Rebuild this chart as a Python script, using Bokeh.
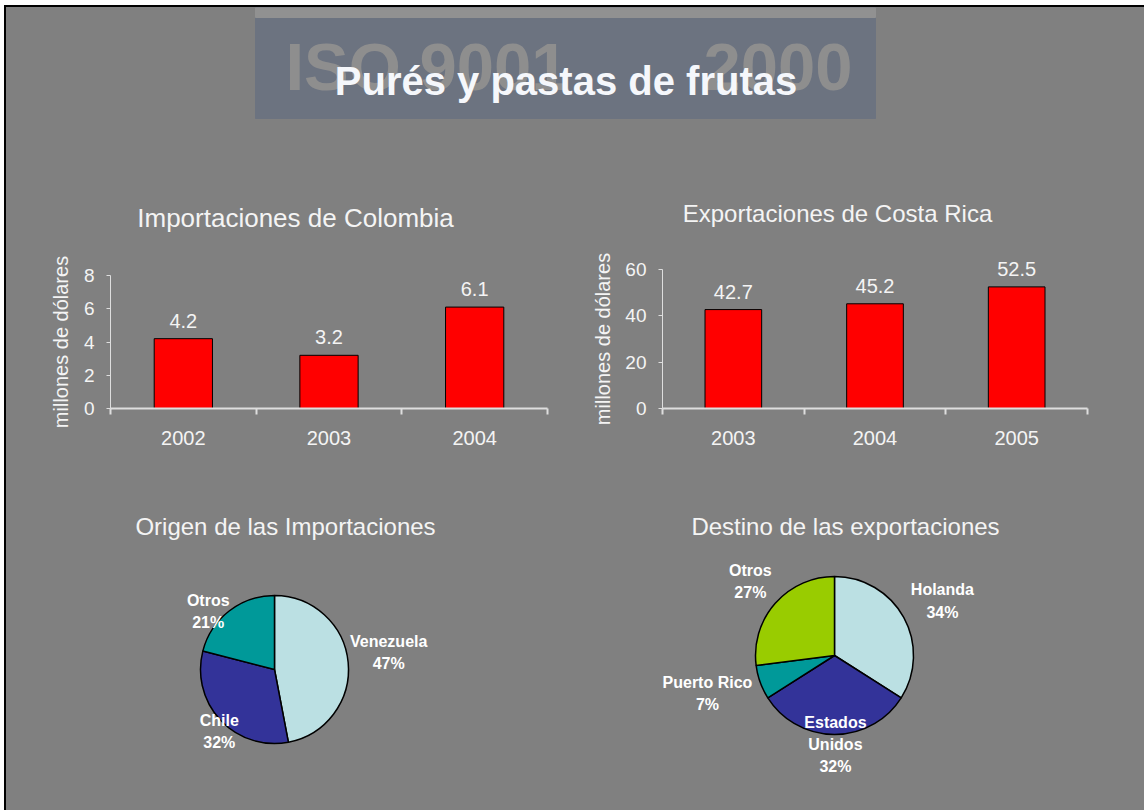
import math
from bokeh.plotting import figure
from bokeh.models import Range1d, FixedTicker, ColumnDataSource, LabelSet
from bokeh.layouts import column, row
from bokeh.embed import file_html
from bokeh.resources import INLINE
from bokeh.core.properties import value

# ---------------- data ----------------
imp_years = ["2002", "2003", "2004"]
imp_values = [4.2, 3.2, 6.1]
imp_yticks = [0, 2, 4, 6, 8]

exp_years = ["2003", "2004", "2005"]
exp_values = [42.7, 45.2, 52.5]
exp_yticks = [0, 20, 40, 60]

origin_names = ["Venezuela", "Chile", "Otros"]
origin_pct = [47, 32, 21]

dest_names = ["Holanda", "Estados\nUnidos", "Puerto Rico", "Otros"]
dest_pct = [34, 32, 7, 27]

# ---------------- styles ----------------
BG = "#808080"
FONT = "Liberation Sans"
TXT = "#f4f4f4"
AX = "#dedede"
LIGHT_CYAN = "#BBE0E3"
NAVY = "#333399"
TEAL = "#009999"
LIME = "#99CC00"


def base_fig(width, height, **kw):
    p = figure(width=width, height=height, toolbar_location=None,
               output_backend="svg", background_fill_color=BG,
               border_fill_color=BG, outline_line_color=None, **kw)
    p.xgrid.grid_line_color = None
    p.ygrid.grid_line_color = None
    return p


# ---------------- header ----------------
W = 1138
HH = 181
hdr = base_fig(W, HH, x_range=Range1d(0, W), y_range=Range1d(HH, 0),
               min_border=0, x_axis_location=None, y_axis_location=None)
hdr.quad(left=[249], right=[869], top=[0], bottom=[111], color="#6c7380")
hdr.quad(left=[249], right=[869], top=[0], bottom=[10], color="#919191")
hdr.text(x=[279], y=[59], text=["ISO 9001"], text_font=value(FONT),
         text_font_style="bold", text_font_size="67px", text_color="#8e8e8e",
         text_align="left", text_baseline="middle")
hdr.text(x=[846], y=[59], text=["2000"], text_font=value(FONT),
         text_font_style="bold", text_font_size="67px", text_color="#8e8e8e",
         text_align="right", text_baseline="middle")
hdr.text(x=[559.5], y=[73], text=["Purés y pastas de frutas"], text_font=value(FONT),
         text_font_style="bold", text_font_size="40px", text_color="#f5f7fb",
         text_align="center", text_baseline="middle")


# ---------------- bar charts ----------------
BAR_H = 282
YLAB = "millones de dólares"


def bar_chart(cats, vals, yticks, title, title_size, width, fl, fr, fb, axis_px,
              tx, ty, ylab_dx):
    """fl/fr/fb: pixel margins of the axes box; axis_px: pixel length of y axis."""
    n = len(cats)
    ytop = yticks[-1]
    axis_w = width - fl - fr
    kx = n / axis_w          # data units per pixel (x)
    ky = ytop / axis_px      # data units per pixel (y)
    x_range = Range1d(-fl * kx, n + fr * kx)
    y_range = Range1d(-fb * ky, ytop + (BAR_H - fb - axis_px) * ky)
    xs = [i + 0.5 for i in range(n)]
    src = ColumnDataSource(dict(x=xs, top=vals, lab=[f"{v:.1f}" for v in vals]))
    p = base_fig(width, BAR_H, x_range=x_range, y_range=y_range, min_border=0)
    p.vbar(x="x", top="top", bottom=0, width=0.4, source=src,
           fill_color="#ff0000", line_color="#000000", line_width=1)
    p.add_layout(LabelSet(x="x", y="top", text="lab", source=src,
                          text_align="center", text_baseline="alphabetic",
                          y_offset=11, text_font=value(FONT),
                          text_font_size=value("20px"), text_color=TXT))
    # chart title
    p.text(x=[tx * kx], y=[ytop + ty * ky], text=[title],
           text_font=value(FONT), text_font_size=title_size, text_color=TXT,
           text_align="center", text_baseline="middle")
    # y axis title (rotated)
    p.text(x=[ylab_dx * kx], y=[ytop / 2.0], text=[YLAB], angle=math.pi / 2,
           text_font=value(FONT), text_font_size="20px", text_color=TXT,
           text_align="center", text_baseline="middle")

    xa = p.xaxis[0]
    xa.fixed_location = 0
    xa.bounds = (0, n)
    xa.ticker = FixedTicker(ticks=xs, minor_ticks=list(range(n + 1)))
    xa.major_label_overrides = {x: c for x, c in zip(xs, cats)}
    xa.major_tick_out = 0
    xa.major_tick_in = 0
    xa.major_tick_line_color = None
    xa.minor_tick_out = 6
    xa.minor_tick_in = 0
    xa.minor_tick_line_color = AX
    xa.minor_tick_line_width = 2
    xa.axis_line_color = AX
    xa.axis_line_width = 2
    xa.major_label_standoff = 16
    xa.major_label_text_font = FONT
    xa.major_label_text_font_size = "20px"
    xa.major_label_text_color = TXT

    ya = p.yaxis[0]
    ya.fixed_location = 0
    ya.bounds = (yticks[0], ytop)
    ya.ticker = FixedTicker(ticks=yticks)
    ya.major_tick_out = 4
    ya.major_tick_in = 0
    ya.minor_tick_out = 0
    ya.minor_tick_in = 0
    ya.axis_line_color = AX
    ya.major_tick_line_color = AX
    ya.major_label_standoff = 12
    ya.major_label_text_font = FONT
    ya.major_label_text_font_size = "19px"
    ya.major_label_text_color = TXT
    return p


b1 = bar_chart(imp_years, imp_values, imp_yticks, "Importaciones de Colombia", "26px",
               570, 104, 29, 62, 133, 185, 58, -50)
b2 = bar_chart(exp_years, exp_values, exp_yticks, "Exportaciones de Costa Rica", "24px",
               568, 86, 57, 62, 139, 175, 56, -60)


# ---------------- pies ----------------
PIE_H = 340


def pie_chart(names, pcts, colors, title, width, cx, cy, r, tx, ty, lab_dist, lab_rot):
    p = base_fig(width, PIE_H, x_range=Range1d(0, width), y_range=Range1d(0, PIE_H),
                 min_border=0, x_axis_location=None, y_axis_location=None)
    total = float(sum(pcts))
    starts, ends, lx, ly, labs = [], [], [], [], []
    cum = 0.0
    for i, v in enumerate(pcts):
        a0 = math.pi / 2 - 2 * math.pi * cum / total
        cum += v
        a1 = math.pi / 2 - 2 * math.pi * cum / total
        starts.append(a0)
        ends.append(a1)
        mid = (a0 + a1) / 2 + math.radians(lab_rot[i])
        lx.append(cx + lab_dist[i] * r * math.cos(mid))
        ly.append(cy + lab_dist[i] * r * math.sin(mid))
        labs.append(f"{names[i]}\n{v}%")
    src = ColumnDataSource(dict(start=starts, end=ends, color=colors))
    p.wedge(x=cx, y=cy, radius=r, start_angle="start", end_angle="end",
            direction="clock", fill_color="color", line_color="black",
            line_width=1.5, source=src)
    p.text(x=lx, y=ly, text=labs, text_font=value(FONT), text_font_style="bold",
           text_font_size="16px", text_color="#ffffff", text_align="center",
           text_baseline="middle", text_line_height=1.3)
    p.text(x=[tx], y=[ty], text=[title], text_font=value(FONT),
           text_font_size="24px", text_color=TXT, text_align="center",
           text_baseline="middle")
    return p


p1 = pie_chart(origin_names, origin_pct, [LIGHT_CYAN, NAVY, TEAL],
               "Origen de las Importaciones", 570, 268, 141, 74, 279, 284,
               [1.56, 1.12, 1.19], [3, 5, 11])
p2 = pie_chart(dest_names, dest_pct, [LIGHT_CYAN, NAVY, TEAL, LIME],
               "Destino de las exportaciones", 568, 258, 155, 79, 269, 284,
               [1.53, 1.13, 1.68, 1.42], [-2, 0.6, -3, 0])

layout = column(hdr, row(b1, b2), row(p1, p2),
                styles={"margin-left": "4px", "margin-top": "5px",
                        "border-left": "2px solid black",
                        "border-top": "2px solid black",
                        "background-color": BG})

open("out.html", "w").write(file_html(layout, INLINE))
